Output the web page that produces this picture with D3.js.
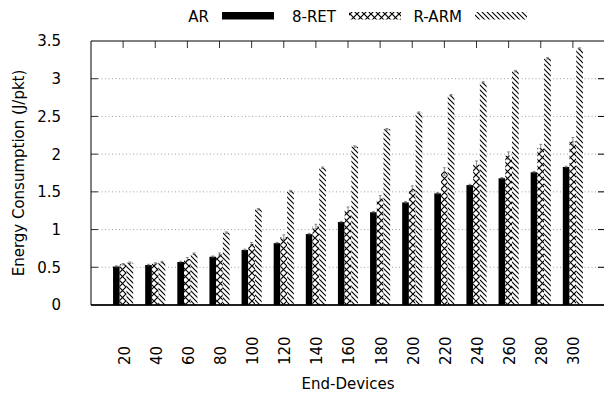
<!DOCTYPE html>
<html><head><meta charset="utf-8">
<script src="https://cdn.jsdelivr.net/npm/d3@7"></script>
<style>body{margin:0;background:#fff}svg{display:block;font-family:"DejaVu Sans",sans-serif}</style>
</head><body>
<svg id="c" width="604" height="394"></svg>
<script>
const categories = ["20","40","60","80","100","120","140","160","180","200","220","240","260","280","300"];
const seriesNames = ["AR","8-RET","R-ARM"];
const arValues   = [0.51,0.53,0.57,0.64,0.73,0.82,0.94,1.10,1.23,1.36,1.48,1.59,1.68,1.76,1.83];
const retValues  = [0.54,0.55,0.61,0.67,0.81,0.90,1.04,1.26,1.41,1.54,1.77,1.86,1.98,2.08,2.17];
const armValues  = [0.56,0.57,0.68,0.96,1.27,1.51,1.82,2.10,2.33,2.55,2.78,2.95,3.10,3.27,3.40];
const arErr  = [0.01,0.01,0.01,0.01,0.01,0.01,0.01,0.01,0.01,0.01,0.01,0.01,0.01,0.01,0.01];
const retErr = [0.01,0.01,0.02,0.02,0.02,0.03,0.03,0.04,0.04,0.04,0.05,0.05,0.05,0.05,0.05];
const armErr = [0.01,0.01,0.01,0.01,0.01,0.01,0.01,0.01,0.01,0.01,0.01,0.01,0.01,0.01,0.01];
const yTicks = [0,0.5,1,1.5,2,2.5,3,3.5];
const yTickLabels = ["0","0.5","1","1.5","2","2.5","3","3.5"];

const svg = d3.select("#c");
const L=91, R=605, T=41, B=305;
const FS = 15;
const x = d3.scaleLinear().domain([-1, categories.length]).range([L, R]);
const y = d3.scaleLinear().domain([0, 3.5]).range([B, T]);
const bw = 0.209;

const defs = svg.append("defs");
const pc = defs.append("pattern").attr("id","cross").attr("patternUnits","userSpaceOnUse").attr("width",7).attr("height",7);
pc.append("rect").attr("width",7).attr("height",7).attr("fill","#fff");
pc.append("path").attr("d","M0,0L7,7M7,0L0,7").attr("stroke","#000").attr("stroke-width",1.2);
const ph = defs.append("pattern").attr("id","hatch").attr("patternUnits","userSpaceOnUse").attr("width",5).attr("height",5);
ph.append("rect").attr("width",5).attr("height",5).attr("fill","#fff");
ph.append("path").attr("d","M-1,-1L6,6M-1,4L1,6M4,-1L6,1").attr("stroke","#000").attr("stroke-width",1.1);
const fills = ["#000","url(#cross)","url(#hatch)"];

// gridlines
svg.append("g").selectAll("line").data(yTicks.filter(v=>v>0 && v<3.5)).join("line")
  .attr("x1",L).attr("x2",R).attr("y1",d=>y(d)).attr("y2",d=>y(d))
  .attr("stroke","#a0a0a0").attr("stroke-width",1).attr("stroke-dasharray","1,2.5");

// bars
const data = [arValues, retValues, armValues];
const errs = [arErr, retErr, armErr];
data.forEach((vals, j) => {
  const g = svg.append("g");
  g.selectAll("rect").data(vals).join("rect")
    .attr("x",(d,i)=>x(i+(j-1.5)*bw))
    .attr("width",x(bw)-x(0))
    .attr("y",d=>y(d)).attr("height",d=>B-y(d))
    .attr("fill",fills[j]);
  const e = svg.append("g").attr("stroke","#444").attr("stroke-width",0.6);
  vals.forEach((v,i)=>{
    const cx = x(i+(j-1)*bw);
    const lo = y(v-errs[j][i]), hi = y(v+errs[j][i]);
    e.append("line").attr("x1",cx).attr("x2",cx).attr("y1",lo).attr("y2",hi);
    e.append("line").attr("x1",cx-1.5).attr("x2",cx+1.5).attr("y1",hi).attr("y2",hi);
    e.append("line").attr("x1",cx-1.5).attr("x2",cx+1.5).attr("y1",lo).attr("y2",lo);
  });
});

// y ticks
const yt = svg.append("g");
yt.selectAll("line.l").data(yTicks.filter(v=>v>0&&v<3.5)).join("line").attr("class","l")
  .attr("x1",L).attr("x2",L+7).attr("y1",d=>y(d)).attr("y2",d=>y(d)).attr("stroke","#333");
yt.selectAll("line.r").data(yTicks.filter(v=>v>0&&v<3.5)).join("line").attr("class","r")
  .attr("x1",R-7).attr("x2",R).attr("y1",d=>y(d)).attr("y2",d=>y(d)).attr("stroke","#000");
yt.selectAll("text").data(yTicks).join("text")
  .attr("x",61).attr("y",d=>y(d)).attr("dy","0.36em").attr("text-anchor","end")
  .attr("font-size",FS).attr("fill","#000").text((d,i)=>yTickLabels[i]);

// top ticks
svg.append("g").selectAll("line").data(categories).join("line")
  .attr("x1",(d,i)=>x(i)).attr("x2",(d,i)=>x(i)).attr("y1",T).attr("y2",T+7).attr("stroke","#333");

// frame
svg.append("path").attr("d",`M${L},${T}H${R}V${B}H${L}Z`).attr("fill","none").attr("stroke","#000").attr("stroke-width",1);
svg.append("line").attr("x1",L).attr("x2",R).attr("y1",B).attr("y2",B).attr("stroke","#000").attr("stroke-width",1.5);

// x labels
svg.append("g").selectAll("text").data(categories).join("text")
  .attr("transform",(d,i)=>`translate(${x(i)+1},365) rotate(-90)`)
  .attr("dy","0.36em").attr("text-anchor","start").attr("font-size",FS).text(d=>d);

svg.append("text").attr("x",(L+R)/2).attr("y",389).attr("text-anchor","middle").attr("font-size",FS).text("End-Devices");
svg.append("text").attr("transform",`translate(24,${(T+B)/2}) rotate(-90)`).attr("text-anchor","middle").attr("font-size",FS).text("Energy Consumption (J/pkt)");

// legend
const legX = [222,349,475];
const lg = svg.append("g");
seriesNames.forEach((n,j)=>{
  lg.append("text").attr("x",legX[j]-13).attr("y",22).attr("text-anchor","end").attr("font-size",FS).text(n);
  lg.append("rect").attr("x",legX[j]).attr("y",12).attr("width",52).attr("height",7.5).attr("fill",fills[j]);
});
</script>
</body></html>
